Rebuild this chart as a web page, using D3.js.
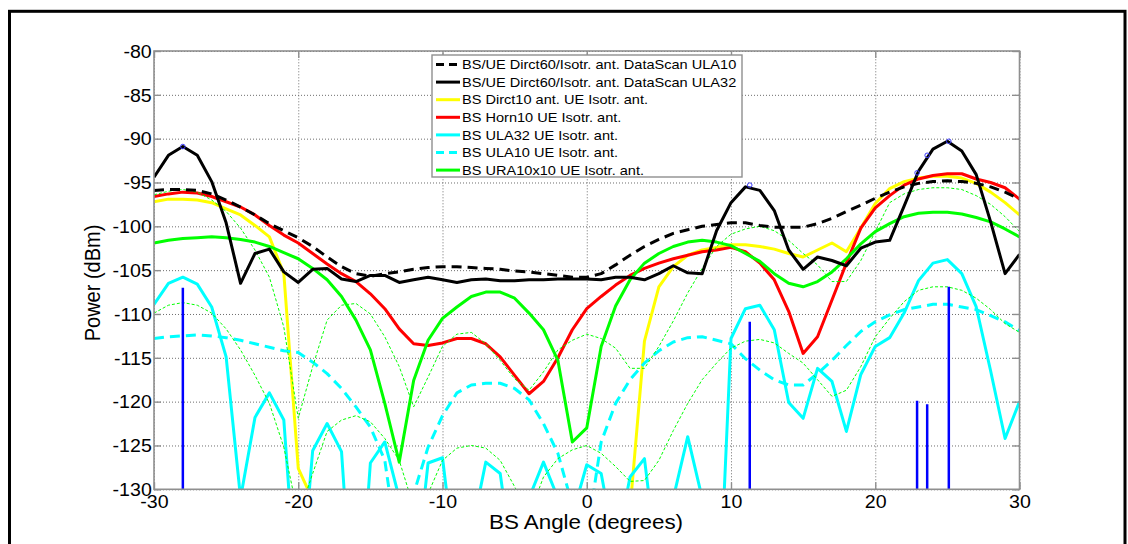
<!DOCTYPE html>
<html>
<head>
<meta charset="utf-8">
<script src="https://cdn.jsdelivr.net/npm/d3@7"></script>
<style>
  body { margin: 0; background: #fff; }
  svg { display: block; }
  text { font-family: "Liberation Sans", Arial, Helvetica, sans-serif; fill: #000; }
</style>
</head>
<body>
<svg id="chart" width="1128" height="544"></svg>
<script>
// ---- data -------------------------------------------------------------
const angles = [-30,-29,-28,-27,-26,-25,-24,-23,-22,-21,-20,-19,-18,-17,-16,-15,-14,-13,-12,-11,
  -10,-9,-8,-7,-6,-5,-4,-3,-2,-1,0,1,2,3,4,5,6,7,8,9,10,11,12,13,14,15,16,17,18,19,20,
  21,22,23,24,25,26,27,28,29,30];

// BS/UE Dirct60/Isotr. ant. DataScan ULA10
const scanUla10 = [-95.9,-95.8,-95.8,-95.9,-96.3,-97.0,-97.8,-98.7,-99.7,-100.5,-101.3,-102.3,-103.5,-104.6,-105.4,-105.7,-105.4,-105.2,-104.9,-104.7,
  -104.6,-104.6,-104.7,-104.8,-104.9,-105.1,-105.2,-105.4,-105.6,-105.8,-105.8,-105.4,-104.4,-103.3,-102.3,-101.5,-100.8,-100.4,-100.0,-99.8,-99.6,
  -99.6,-99.9,-100.1,-100.1,-100.1,-99.7,-99.1,-98.3,-97.6,-96.8,-96.1,-95.5,-95.1,-94.9,-94.8,-94.9,-95.1,-95.5,-96.1,-96.9];

// BS/UE Dirct60/Isotr. ant. DataScan ULA32
const scanUla32 = [-94.4,-91.9,-90.9,-91.9,-94.9,-99.6,-106.5,-103.1,-102.6,-105.2,-106.4,-104.9,-104.8,-106.0,-106.3,-105.6,-105.6,-106.4,-106.1,-105.8,
  -106.1,-106.4,-106.1,-106.0,-106.2,-106.2,-106.1,-106.1,-106.0,-106.0,-106.0,-106.1,-105.8,-105.8,-106.1,-105.4,-104.5,-105.3,-105.4,-100.5,-97.3,
  -95.5,-95.9,-98.2,-102.7,-104.9,-103.5,-103.9,-104.5,-102.5,-101.8,-101.6,-97.7,-93.7,-91.2,-90.3,-91.4,-94.1,-99.5,-105.4,-103.2];

// BS Dirct10 ant. UE Isotr. ant.
const dirct10 = [-97.2,-96.9,-96.9,-97.0,-97.3,-98.0,-98.7,-99.9,-101.2,-105.4,-127.6,-131.2,-140,-140,-140,-140,-140,-140,-140,-140,
  -140,-140,-140,-140,-140,-140,-140,-140,-140,-140,-140,-140,-140,-132.3,-113.1,-106.9,-104.6,-103.3,-102.7,-102.4,-102.1,
  -102.1,-102.3,-102.6,-103.1,-103.5,-102.7,-101.9,-102.9,-100.2,-97.4,-95.7,-94.9,-94.5,-94.3,-94.3,-94.5,-95.1,-96.1,-97.3,-98.7];

// BS Horn10 UE Isotr. ant.
const horn10 = [-96.6,-96.3,-96.1,-96.2,-96.6,-97.2,-97.8,-98.7,-99.9,-101.0,-101.9,-103.1,-104.3,-105.4,-106.3,-107.7,-109.4,-111.7,-113.4,-113.6,
  -113.3,-112.8,-112.8,-113.4,-114.9,-117.0,-119.1,-117.7,-115.0,-111.8,-109.4,-108.0,-106.7,-105.6,-104.8,-104.2,-103.7,-103.3,-102.9,-102.7,-102.4,
  -102.9,-104.2,-106.1,-109.7,-114.5,-112.6,-108.4,-104.2,-100.2,-97.9,-96.5,-95.3,-94.6,-94.2,-94.0,-94.0,-94.6,-95.0,-95.6,-96.9];

// BS ULA32 UE Isotr. ant.
const ula32 = [-108.9,-106.5,-105.8,-106.6,-109.2,-114.9,-131.0,-121.8,-119.0,-122.1,-145,-125.6,-122.5,-125.7,-150,-127.0,-124.6,-131.0,-142,-127.0,
  -126.4,-140,-135,-126.9,-128.2,-140,-131.0,-126.9,-131.0,-133,-127.2,-128.2,-137,-128.6,-126.5,-140,-131.0,-124.0,-131.0,-150,-112.8,
  -109.4,-109.0,-111.8,-120.1,-121.9,-116.2,-117.7,-123.4,-116.9,-113.7,-112.7,-109.9,-106.2,-104.2,-103.8,-105.4,-109.2,-116.5,-124.2,-120.0];

// BS ULA10 UE Isotr. ant.
const ula10 = [-112.8,-112.6,-112.5,-112.4,-112.5,-112.7,-113.0,-113.4,-113.8,-114.2,-114.4,-115.5,-116.8,-118.5,-120.6,-122.9,-126.7,-138,-130.5,-125.2,
  -121.6,-119.0,-118.1,-117.9,-117.9,-118.5,-119.8,-122.5,-125.9,-131.8,-135.4,-124.6,-120.2,-117.5,-115.6,-114.2,-113.2,-112.7,-112.6,-113.0,-113.4,
  -115.1,-116.4,-117.5,-118.1,-118.1,-116.8,-115.3,-113.6,-112.0,-110.9,-110.1,-109.5,-109.2,-108.9,-108.9,-109.2,-109.5,-110.2,-110.9,-111.9];

// BS URA10x10 UE Isotr. ant.
const ura10x10 = [-101.9,-101.6,-101.4,-101.3,-101.2,-101.3,-101.5,-101.8,-102.3,-103.0,-103.7,-104.8,-106.1,-108.0,-110.7,-114.1,-120.2,-126.9,-117.6,-113.0,
  -110.5,-109.2,-108.0,-107.5,-107.5,-108.2,-109.9,-111.8,-115.3,-124.6,-123.0,-113.7,-109.1,-106.1,-104.2,-103.1,-102.3,-101.8,-101.6,-101.8,-102.2,
  -103.1,-104.0,-105.4,-106.5,-106.9,-106.3,-105.2,-103.7,-102.0,-100.6,-99.7,-98.9,-98.5,-98.4,-98.4,-98.6,-99.0,-99.5,-100.3,-101.2];

// URA10x10 auxiliary cuts (thin dashed green, no legend entry)
const uraCutA = [-96.4,-96.0,-95.8,-96.1,-97.0,-98.3,-100.2,-102.7,-105.8,-111.5,-121.9,-116.0,-110.7,-109.0,-108.8,-110.0,-112.6,-116.0,-120.6,-117.2,
  -113.7,-112.3,-112.1,-113.4,-115.3,-117.4,-118.7,-116.6,-114.1,-113.0,-112.3,-112.8,-113.9,-116.2,-116.2,-113.7,-110.8,-107.6,-104.8,-102.3,-100.9,
  -100.3,-100.0,-100.5,-101.6,-103.1,-104.4,-106.3,-106.3,-103.9,-100.6,-97.3,-96.3,-95.8,-95.6,-95.6,-95.8,-96.5,-97.5,-98.9,-100.6];
const uraCutB = [-109.9,-109.0,-108.7,-109.0,-109.9,-111.7,-114.1,-117.0,-120.2,-125.2,-133.0,-128.2,-123.4,-122.1,-121.6,-122.3,-124.2,-126.7,-132.0,-130.5,
  -126.7,-125.3,-125.0,-125.3,-126.7,-129.7,-133.0,-128.6,-126.5,-125.5,-125.0,-125.9,-127.4,-129.1,-129.0,-126.7,-123.3,-120.2,-117.5,-115.6,-113.9,
  -113.1,-112.9,-113.3,-114.5,-115.6,-117.5,-119.4,-118.7,-116.0,-112.6,-110.5,-108.6,-107.3,-106.9,-106.9,-107.3,-108.2,-109.5,-111.1,-112.1];

// ray directions (stems) and the scanned power at those directions (circles)
const rayAngles = [-28, 11.3, 22.9, 23.6, 25.1];
const rayPower = [-107.0, -110.9, -119.9, -120.3, -106.9];
const peakPower = [-90.9, -95.3, -93.9, -91.9, -90.3];

const xTicks = [-30, -20, -10, 0, 10, 20, 30];
const yTicks = [-130, -125, -120, -115, -110, -105, -100, -95, -90, -85, -80];

const legendLabels = [
  "BS/UE Dirct60/Isotr. ant. DataScan ULA10",
  "BS/UE Dirct60/Isotr. ant. DataScan ULA32",
  "BS Dirct10 ant. UE Isotr. ant.",
  "BS Horn10 UE Isotr. ant.",
  "BS ULA32 UE Isotr. ant.",
  "BS ULA10 UE Isotr. ant.",
  "BS URA10x10 UE Isotr. ant."
];

// ---- layout -----------------------------------------------------------
const svg = d3.select("#chart");
const plot = { left: 154, right: 1019.5, top: 51, bottom: 489.3 };
const x = d3.scaleLinear().domain([-30, 30]).range([plot.left, plot.right]);
const y = d3.scaleLinear().domain([-130, -80]).range([plot.bottom, plot.top]);
const axisGray = "#8f8f8f";
const stretch = "scale(1.12,1)";
const plainNumber = d => String(d);   // ASCII hyphen for negatives

// outer figure frame
svg.append("rect")
  .attr("x", 9.5).attr("y", 11.3).attr("width", 1115.5).attr("height", 600)
  .attr("fill", "none").attr("stroke", "#000").attr("stroke-width", 3);

svg.append("defs").append("clipPath").attr("id", "plotClip")
  .append("rect")
  .attr("x", plot.left).attr("y", plot.top)
  .attr("width", plot.right - plot.left).attr("height", plot.bottom - plot.top);

// dotted grid
const grid = svg.append("g");
grid.append("g")
  .attr("transform", `translate(0,${plot.bottom})`)
  .call(d3.axisBottom(x).tickValues(xTicks).tickSize(-(plot.bottom - plot.top)).tickFormat(""))
  .call(g => g.select(".domain").remove());
grid.append("g")
  .attr("transform", `translate(${plot.left},0)`)
  .call(d3.axisLeft(y).tickValues(yTicks).tickSize(-(plot.right - plot.left)).tickFormat(""))
  .call(g => g.select(".domain").remove());
grid.selectAll("line")
  .attr("stroke", "#6e6e6e").attr("stroke-width", 1).attr("stroke-dasharray", "1,2");

// ---- series -------------------------------------------------------------
const line = d3.line().x((d, i) => x(angles[i])).y(d => y(d));
const lines = svg.append("g").attr("clip-path", "url(#plotClip)");

const seriesStyle = [
  { values: dirct10, color: "#ffff00", width: 3, dash: null },
  { values: horn10, color: "#ff0000", width: 3, dash: null },
  { values: ula32, color: "#00ffff", width: 3, dash: null },
  { values: ula10, color: "#00ffff", width: 3, dash: "10,6" },
  { values: ura10x10, color: "#00ff00", width: 3, dash: null },
  { values: uraCutA, color: "#00ff00", width: 1, dash: "3,2" },
  { values: uraCutB, color: "#00ff00", width: 1, dash: "3,2" },
  { values: scanUla10, color: "#000000", width: 3, dash: "10,6" },
  { values: scanUla32, color: "#000000", width: 3, dash: null }
];

lines.selectAll("path.series")
  .data(seriesStyle)
  .join("path")
  .attr("class", "series")
  .attr("d", s => line(s.values))
  .attr("fill", "none")
  .attr("stroke", s => s.color)
  .attr("stroke-width", s => s.width)
  .attr("stroke-dasharray", s => s.dash)
  .attr("stroke-linejoin", "round");

// ray stems
lines.selectAll("line.stem")
  .data(rayAngles)
  .join("line")
  .attr("class", "stem")
  .attr("x1", d => x(d)).attr("x2", d => x(d))
  .attr("y1", y(-130)).attr("y2", (d, i) => y(rayPower[i]))
  .attr("stroke", "#0000ff").attr("stroke-width", 2.5);

// circles on the scanned ULA32 curve
lines.selectAll("circle.peak")
  .data(rayAngles)
  .join("circle")
  .attr("class", "peak")
  .attr("cx", d => x(d)).attr("cy", (d, i) => y(peakPower[i]))
  .attr("r", 2.3)
  .attr("fill", "none").attr("stroke", "#3b3bff").attr("stroke-width", 1);

// ---- axes box, ticks and labels ----------------------------------------
const axes = svg.append("g");
axes.append("rect")
  .attr("x", plot.left).attr("y", plot.top)
  .attr("width", plot.right - plot.left).attr("height", plot.bottom - plot.top)
  .attr("fill", "none").attr("stroke", axisGray).attr("stroke-width", 1.6);

const xAxis = axes.append("g")
  .attr("transform", `translate(0,${plot.bottom})`)
  .call(d3.axisBottom(x).tickValues(xTicks).tickFormat(plainNumber)
    .tickSizeInner(-7).tickSizeOuter(0).tickPadding(6));
const yAxis = axes.append("g")
  .attr("transform", `translate(${plot.left},0)`)
  .call(d3.axisLeft(y).tickValues(yTicks).tickFormat(plainNumber)
    .tickSizeInner(-7).tickSizeOuter(0).tickPadding(2));
axes.append("g")
  .attr("transform", `translate(0,${plot.top})`)
  .call(d3.axisTop(x).tickValues(xTicks).tickSizeInner(-7).tickSizeOuter(0).tickFormat(""));
axes.append("g")
  .attr("transform", `translate(${plot.right},0)`)
  .call(d3.axisRight(y).tickValues(yTicks).tickSizeInner(-7).tickSizeOuter(0).tickFormat(""));

axes.selectAll(".domain").remove();
axes.selectAll(".tick line").attr("stroke", axisGray).attr("stroke-width", 1.4);
axes.selectAll(".tick text")
  .attr("font-family", "Liberation Sans, Arial, sans-serif")
  .attr("font-size", 17.5)
  .attr("fill", "#000")
  .attr("transform", stretch);
yAxis.selectAll(".tick text").attr("dy", "0.36em");

// axis titles
svg.append("text")
  .attr("transform", `translate(586,529) ${stretch}`)
  .attr("text-anchor", "middle")
  .attr("font-size", 20)
  .text("BS Angle (degrees)");
svg.append("text")
  .attr("transform", `translate(100,283) ${stretch} rotate(-90)`)
  .attr("text-anchor", "middle")
  .attr("font-size", 20)
  .text("Power (dBm)");

// ---- legend -------------------------------------------------------------
const legend = svg.append("g");
legend.append("rect")
  .attr("x", 432).attr("y", 55).attr("width", 310).attr("height", 122)
  .attr("fill", "#fff").attr("stroke", axisGray).attr("stroke-width", 1.4);

const legendStyle = [seriesStyle[7], seriesStyle[8], seriesStyle[0], seriesStyle[1],
  seriesStyle[2], seriesStyle[3], seriesStyle[4]];
const rowY = i => 64.5 + i * 17.6;
const rows = legend.selectAll("g.row")
  .data(legendLabels)
  .join("g")
  .attr("class", "row");
rows.append("line")
  .attr("x1", 436).attr("x2", 460)
  .attr("y1", (d, i) => rowY(i)).attr("y2", (d, i) => rowY(i))
  .attr("stroke", (d, i) => legendStyle[i].color)
  .attr("stroke-width", 3)
  .attr("stroke-dasharray", (d, i) => legendStyle[i].dash ? "8,5" : null);
rows.append("text")
  .attr("transform", (d, i) => `translate(462,${rowY(i)}) ${stretch}`)
  .attr("dy", "0.36em")
  .attr("font-size", 13)
  .text(d => d);
</script>
</body>
</html>
